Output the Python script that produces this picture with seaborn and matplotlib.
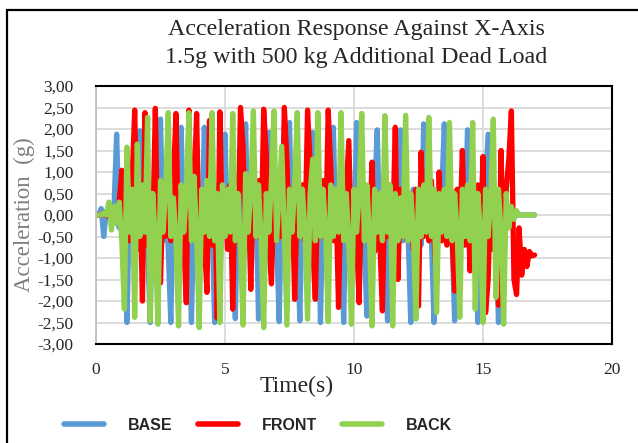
import numpy as np
import pandas as pd
import matplotlib
matplotlib.use("Agg")
import matplotlib.pyplot as plt
from matplotlib.lines import Line2D
from matplotlib.ticker import FuncFormatter, MultipleLocator
import seaborn as sns

# ------------------------------------------------------------------
# Data read off the reference (acceleration in g, sampled every 0.1 s)
# ------------------------------------------------------------------
sample_step = 0.1  # s

base = [
    0.0, 0.0, 0.15, -0.5, 0.1, 0.0, -0.1, 0.2, 1.88, -0.3,
    0.5, -0.6, -2.5, 0.4, -0.3, 0.6, -0.5, 1.96, -0.4, 0.5,
    -0.7, -2.5, 0.6, -0.4, 0.8, 2.23, -0.6, 0.4, -0.8, -2.5,
    0.5, -0.3, 0.7, 2.04, -0.5, 0.6, -0.7, -2.5, 0.4, -0.3,
    0.6, -0.4, 2.04, -0.6, 0.5, -0.3, -2.5, 0.7, -0.5, 0.4,
    1.88, -0.6, 0.5, -0.4, -2.41, 0.6, -0.3, 0.5, 2.12, -0.7,
    0.4, -0.5, 0.6, -2.42, 0.5, -0.4, 0.7, 1.92, -0.6, 0.3,
    -0.5, -2.48, 0.6, -0.3, 0.5, 2.15, -0.7, 0.4, -0.5, -2.46,
    0.6, -0.4, 0.5, -0.6, 1.92, -0.3, 0.6, -2.5, 0.4, -0.5,
    0.7, -0.4, 2.04, -0.6, 0.5, -0.3, -2.5, 0.6, -0.4, 0.5,
    -0.6, 2.15, -0.4, 0.5, -0.7, -2.35, 0.6, -0.3, 0.5, 1.98,
    -0.5, 0.4, -0.6, -2.46, 0.7, -0.4, 0.5, -0.3, 1.98, -0.6,
    0.4, -0.5, -2.5, 0.6, -0.3, 0.5, -0.7, 2.12, -0.4, 0.6,
    -0.5, -2.5, 0.4, -0.6, 0.5, 2.12, -0.3, 0.6, -0.5, -2.46,
    0.5, -0.4, 0.6, -0.3, 1.98, -0.6, 0.4, -0.5, -2.5, 0.5,
    -0.4, 0.73, 1.88, -0.5, 0.4, -0.3, -2.5, 0.3, -0.2, 0.1,
    0.0, 0.05, -0.05, 0.0, 0.0, 0.0, 0.0, 0.0, 0.0, 0.0, 0.0,
]

front = [
    0.0, 0.0, 0.0, 0.05, 0.0, -0.05, 0.0, 0.1, -0.2, 0.3,
    1.04, -1.12, 0.5, -0.6, 0.8, 2.44, -0.8, 0.6, -2.0, 2.38,
    -0.7, 0.5, -0.4, 2.48, -0.9, -1.58, 0.6, -0.5, 0.7, -0.6,
    0.8, 2.36, -0.7, 0.5, -0.6, -2.04, 2.44, -0.5, 0.6, 2.36,
    -0.8, 0.5, -0.6, -1.8, 2.2, -0.7, 0.6, -2.4, 2.4, -0.5,
    0.6, -0.8, 0.7, -2.19, 0.9, -0.6, 2.5, 1.58, -0.7, 0.5,
    -1.73, 0.6, -0.5, 0.8, -0.6, 2.46, 1.4, -0.7, -1.6, 0.5,
    -0.6, 0.7, -0.5, 2.5, 1.3, -0.8, 0.6, -1.96, 0.5, -0.4,
    0.7, -0.6, 2.44, 1.2, -0.7, -1.96, 0.6, -0.5, 0.8, -0.6,
    2.44, 1.1, -0.6, 0.5, -2.15, 0.7, -0.5, 0.6, 1.73, -0.8,
    0.5, -0.6, -2.04, 0.8, -0.5, 0.6, -0.4, 1.23, -0.85, 0.5,
    -0.6, -2.23, 0.7, -0.5, 0.6, -0.4, 2.04, -1.5, 0.6, -0.5,
    0.7, -0.6, 0.5, -0.8, 0.6, -2.12, 1.46, -0.5, 0.7, -0.6,
    0.8, -0.5, -1.6, 1.0, -0.6, 0.5, -0.7, 0.6, -0.5, -1.77,
    0.6, -0.5, 1.5, -0.7, 0.5, -1.3, 0.6, -0.5, 0.7, -0.6,
    1.36, -2.27, -1.5, 0.6, -0.8, 0.5, -2.1, 1.5, -1.5, 0.6,
    1.3, 2.42, -1.5, -1.85, -0.3, -1.4, -0.8, -1.2, -0.85, -0.95, -0.93,
]

back = [
    0.0, 0.0, 0.0, 0.05, 0.0, 0.3, -0.35, 0.2, -0.2, 0.3,
    -0.6, -2.19, 1.58, -0.4, 0.6, -2.38, 1.65, -0.5, 0.7, -0.4,
    2.27, -2.46, 0.5, -0.6, -2.54, 0.8, -0.4, 0.6, 2.38, -0.5,
    0.4, -0.6, -2.58, 0.7, -0.4, 0.5, 2.38, -0.6, 0.9, -0.5,
    -2.62, 0.6, -0.4, 0.8, -0.5, 2.38, -0.6, 0.5, -2.5, 0.7,
    -0.5, 0.6, -0.4, 2.36, -0.6, 0.5, -0.7, -2.56, 0.96, -0.4,
    0.6, 2.42, -0.5, 0.7, -0.6, -2.62, 0.5, -0.4, 0.8, 2.42,
    -0.6, 0.5, 1.6, -0.5, -2.56, 0.6, -0.4, 0.7, 2.38, -0.5,
    0.6, -0.4, -2.42, 0.5, 1.3, -0.6, 2.38, -0.5, 0.6, -0.4,
    -2.48, 0.7, -0.5, 0.6, -0.4, 2.38, -0.6, 0.5, -0.7, -2.54,
    0.6, -0.4, 0.5, 2.36, -0.6, 0.7, -0.5, -2.58, 0.6, -0.4,
    0.5, -0.6, 2.31, -0.4, 0.7, -2.58, 0.5, -0.6, 0.4, -0.5,
    2.32, -0.6, 0.5, -0.4, -2.42, 0.6, -0.5, 0.7, -0.4, 2.27,
    -0.5, 0.6, -2.27, 0.5, -0.4, 0.6, -0.5, 2.15, -0.6, 0.5,
    -0.4, -2.38, 0.6, -0.5, 0.7, -0.6, 2.15, -2.19, 0.5, -0.4,
    -2.5, 0.6, -0.5, 0.4, 2.23, -1.92, 0.6, -0.4, -2.54, 0.5,
    -0.3, 0.2, -0.1, 0.1, 0.0, 0.0, 0.0, 0.0, 0.0, 0.0, 0.0,
]

series_names = ["BASE", "FRONT", "BACK"]
series_colors = ["#5B9BD5", "#FF0000", "#92D050"]
x_ticks = [0, 5, 10, 15, 20]

# long-form table for seaborn
frames = []
for name, values in zip(series_names, [base, front, back]):
    t = np.round(np.arange(len(values)) * sample_step, 2)
    frames.append(pd.DataFrame({"time": t, "acc": values, "series": name}))
df = pd.concat(frames, ignore_index=True)

# ------------------------------------------------------------------
# Plot
# ------------------------------------------------------------------
sns.set_style("white")
plt.rcParams["font.family"] = ["Liberation Serif", "DejaVu Serif"]

fig = plt.figure(figsize=(6.38, 4.43), dpi=100)
ax = fig.add_axes([96 / 638, 99 / 443, 516 / 638, 258 / 443])

sns.lineplot(data=df, x="time", y="acc", hue="series", hue_order=series_names,
             palette=series_colors, estimator=None, sort=False, lw=3.8,
             legend=False, ax=ax)

ax.set_xlim(0, 20)
ax.set_ylim(-3, 3)
ax.set_xticks(x_ticks)
ax.yaxis.set_major_locator(MultipleLocator(0.5))
ax.yaxis.set_major_formatter(FuncFormatter(lambda v, p: f"{v:.2f}".replace(".", ",")))
ax.tick_params(length=0, labelsize=12.5)
ax.tick_params(axis="y", pad=16)
ax.tick_params(axis="x", pad=13)
ax.grid(True, color="#d9d9d9", lw=1.3)
ax.set_axisbelow(True)
for side in ["top", "right", "bottom"]:
    ax.spines[side].set_color("black")
    ax.spines[side].set_linewidth(1.5)
ax.spines["left"].set_color("#bfbfbf")
ax.spines["left"].set_linewidth(1.3)

ax.set_xlabel("")
ax.set_ylabel("Acceleration  (g)", fontsize=16.5, color="#7f7f7f", labelpad=2)
fig.text(297 / 638, 1 - 386 / 443, "Time(s)", ha="center", va="center", fontsize=17)

fig.text(356 / 638, 1 - 29 / 443, "Acceleration Response Against X-Axis",
         ha="center", va="center", fontsize=17.3)
fig.text(356 / 638, 1 - 57 / 443, "1.5g with 500 kg Additional Dead Load",
         ha="center", va="center", fontsize=17.3)

# legend
handles = [Line2D([], [], color=c, lw=4) for c in series_colors]
fig.legend(handles, series_names, loc="center", bbox_to_anchor=(258 / 638, 1 - 425 / 443),
           ncol=3, frameon=False, handlelength=2.5, handletextpad=1.5,
           columnspacing=1.6,
           prop={"family": "Liberation Sans", "weight": "bold", "size": 11.5})

# chart-area border (left and top edges visible in the crop)
bx, by = 6.5 / 638, 1 - 10 / 443
fig.add_artist(Line2D([bx, 1.0], [by, by], color="black", lw=1.6, transform=fig.transFigure))
fig.add_artist(Line2D([bx, bx], [0.0, by], color="black", lw=1.6, transform=fig.transFigure))

fig.savefig("out.png", dpi=100)
